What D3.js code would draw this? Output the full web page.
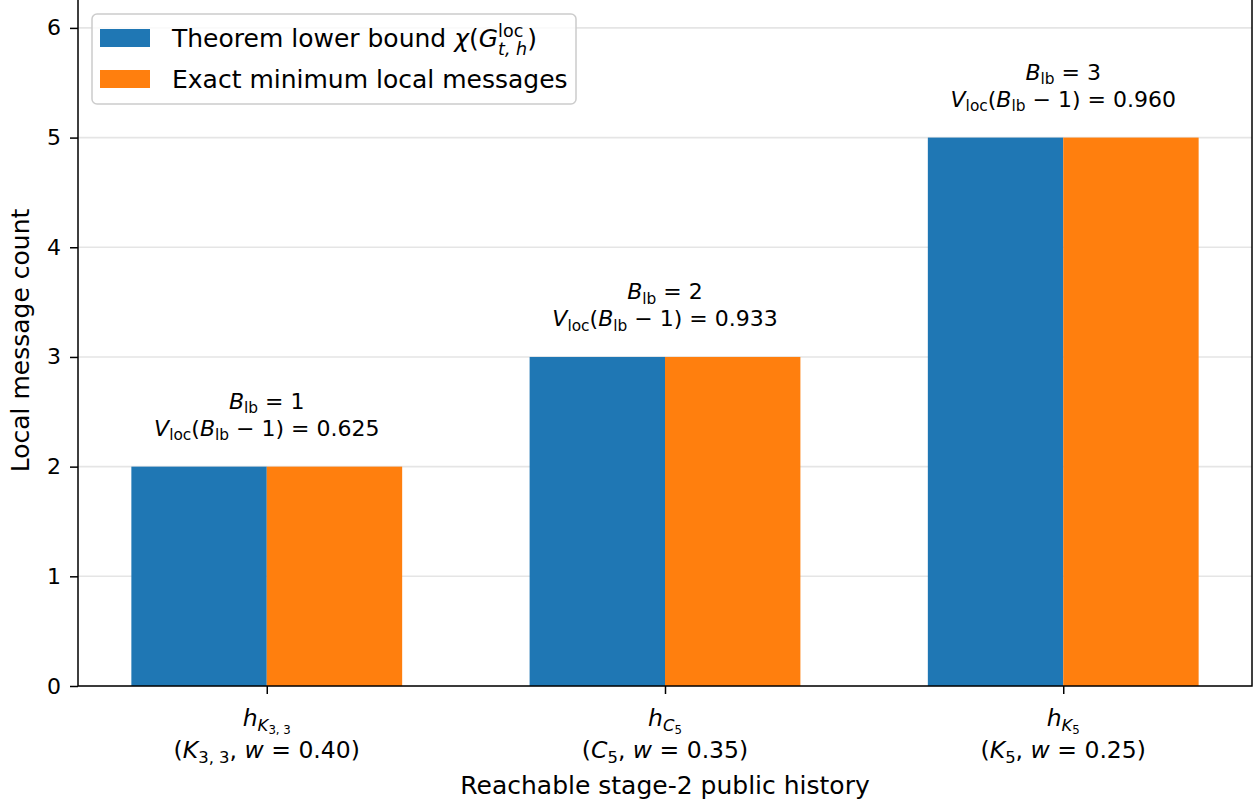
<!DOCTYPE html>
<html>
<head>
<meta charset="utf-8">
<script src="https://cdn.jsdelivr.net/npm/d3@7"></script>
<style>
  body { margin: 0; background: #fff; }
  svg { display: block; }
  text { font-family: "DejaVu Sans", sans-serif; fill: #000; }
</style>
</head>
<body>
<svg id="chart" width="1256" height="805"></svg>
<script>
// ---- data ----
const histories   = ["K33", "C5", "K5"];
const lowerBound  = [2, 3, 5];      // theorem lower bound chi(G^loc_{t,h})
const exactMin    = [2, 3, 5];      // exact minimum local messages
const budgetLB    = [1, 2, 3];      // B_lb
const vLocValues  = ["0.625", "0.933", "0.960"]; // V_loc(B_lb - 1)
const graphNames  = [
  [{t: "K", i: 1}, {t: "3, 3", l: 1}],
  [{t: "C", i: 1}, {t: "5", l: 1}],
  [{t: "K", i: 1}, {t: "5", l: 1}]
];
const weights     = ["0.40", "0.35", "0.25"];
const yTicks      = [0, 1, 2, 3, 4, 5, 6];
const seriesNames = ["Theorem lower bound", "Exact minimum local messages"];
const colors      = ["#1f77b4", "#ff7f0e"];

// ---- layout ----
const plot = { left: 78, right: 1252, top: -5, bottom: 686 };
const barW = 0.34;
const tickFont = 22, xTickFont = 23.5, labelFont = 25, legendFont = 25, annFont = 22;

const svg = d3.select("#chart");

const x = d3.scaleLinear()
  .domain([-barW - 0.134, histories.length - 1 + barW + 0.134])
  .range([plot.left, plot.right]);
const y = d3.scaleLinear().domain([0, 6.3]).range([plot.bottom, plot.top]);

// mathtext-like renderer: segments with italic flag and script level
// l: 0 normal, 1 subscript, 2 sub-subscript, -1 superscript
function mathText(textSel, segs, size) {
  let cur = 0;
  let prevNode = null;
  segs.forEach(s => {
    const lvl = s.l || 0;
    const scale = lvl === 0 ? 1 : (Math.abs(lvl) === 1 ? 0.7 : 0.5);
    let off = 0;
    if (lvl === 1) off = 0.22 * size;
    else if (lvl === 2) off = 0.22 * size + 0.13 * size;
    else if (lvl === -1) off = -0.42 * size;
    if (s.sub) off = 0.3 * size;
    const ts = textSel.append("tspan")
      .attr("font-size", size * scale)
      .attr("font-style", s.i ? "italic" : "normal")
      .attr("dy", off - cur)
      .text(s.t);
    if (s.back && prevNode) ts.attr("dx", -prevNode.getComputedTextLength());
    cur = off;
    prevNode = ts.node();
  });
}

// ---- grid ----
svg.append("g").selectAll("line").data(yTicks).join("line")
  .attr("x1", plot.left).attr("x2", plot.right)
  .attr("y1", d => y(d)).attr("y2", d => y(d))
  .attr("stroke", "#e5e5e5").attr("stroke-width", 1.6);

// ---- bars ----
const series = [lowerBound, exactMin];
series.forEach((vals, si) => {
  svg.append("g").selectAll("rect").data(vals).join("rect")
    .attr("x", (d, i) => x(i + (si === 0 ? -barW : 0)))
    .attr("width", (d, i) => x(i + barW) - x(i))
    .attr("y", d => y(d))
    .attr("height", d => y(0) - y(d))
    .attr("fill", colors[si]);
});

// ---- annotations above each group ----
histories.forEach((h, i) => {
  const top = y(Math.max(lowerBound[i], exactMin[i]));
  const t1 = svg.append("text").attr("x", x(i)).attr("y", top - 58)
    .attr("text-anchor", "middle").attr("font-size", annFont);
  mathText(t1, [{t: "B", i: 1}, {t: "lb", l: 1}, {t: " = " + budgetLB[i], base: 1}], annFont);
  const t2 = svg.append("text").attr("x", x(i)).attr("y", top - 31)
    .attr("text-anchor", "middle").attr("font-size", annFont);
  mathText(t2, [{t: "V", i: 1}, {t: "loc", l: 1}, {t: "("}, {t: "B", i: 1}, {t: "lb", l: 1},
    {t: " \u2212 1) = " + vLocValues[i]}], annFont);
});

// ---- axes ----
const yAxis = svg.append("g").attr("transform", `translate(${plot.left},0)`)
  .call(d3.axisLeft(y).tickValues(yTicks).tickFormat(d3.format("d")).tickSize(8).tickPadding(9));
const xAxis = svg.append("g").attr("transform", `translate(0,${plot.bottom})`)
  .call(d3.axisBottom(x).tickValues(histories.map((d, i) => i)).tickFormat("").tickSize(8));
[yAxis, xAxis].forEach(a => {
  a.select(".domain").remove();
  a.selectAll(".tick line").attr("stroke", "#000").attr("stroke-width", 1.5);
  a.selectAll(".tick text").attr("font-size", tickFont).attr("fill", "#000")
    .attr("font-family", "DejaVu Sans, sans-serif");
});
xAxis.selectAll(".tick text").remove();

// frame
svg.append("rect")
  .attr("x", plot.left).attr("y", plot.top)
  .attr("width", plot.right - plot.left).attr("height", plot.bottom - plot.top)
  .attr("fill", "none").attr("stroke", "#000").attr("stroke-width", 1.5);

// x tick labels (two lines each)
histories.forEach((h, i) => {
  const g = graphNames[i];
  const l1 = svg.append("text").attr("x", x(i)).attr("y", plot.bottom + 40)
    .attr("text-anchor", "middle").attr("font-size", xTickFont);
  mathText(l1, [{t: "h", i: 1}, {t: g[0].t, i: 1, l: 1}, {t: g[1].t, l: 2}], xTickFont);
  const l2 = svg.append("text").attr("x", x(i)).attr("y", plot.bottom + 72)
    .attr("text-anchor", "middle").attr("font-size", xTickFont);
  mathText(l2, [{t: "("}, {t: g[0].t, i: 1}, {t: g[1].t, l: 1}, {t: ", "}, {t: "w", i: 1},
    {t: " = " + weights[i] + ")"}], xTickFont);
});

// axis labels
svg.append("text").attr("x", (plot.left + plot.right) / 2).attr("y", 794)
  .attr("text-anchor", "middle").attr("font-size", labelFont)
  .text("Reachable stage-2 public history");
svg.append("text")
  .attr("transform", `translate(29,${(plot.top + plot.bottom) / 2}) rotate(-90)`)
  .attr("text-anchor", "middle").attr("font-size", labelFont)
  .text("Local message count");

// ---- legend ----
const lg = svg.append("g").attr("transform", "translate(92,14)");
lg.append("rect").attr("width", 484).attr("height", 90).attr("rx", 5)
  .attr("fill", "#fff").attr("fill-opacity", 0.8)
  .attr("stroke", "#cccccc").attr("stroke-width", 1.5);
seriesNames.forEach((name, si) => {
  const rowY = 24 + si * 41;
  lg.append("rect").attr("x", 8).attr("y", rowY - 9).attr("width", 50).attr("height", 18)
    .attr("fill", colors[si]);
  const t = lg.append("text").attr("x", 80).attr("y", rowY + 9).attr("font-size", legendFont);
  if (si === 0) {
    mathText(t, [{t: name + " "}, {t: "\u03c7", i: 1}, {t: "("}, {t: "G", i: 1},
      {t: "loc", l: -1}, {t: "t, h", i: 1, l: 1, sub: 1, back: true}, {t: ")"}], legendFont);
  } else {
    t.text(name);
  }
});
</script>
</body>
</html>
